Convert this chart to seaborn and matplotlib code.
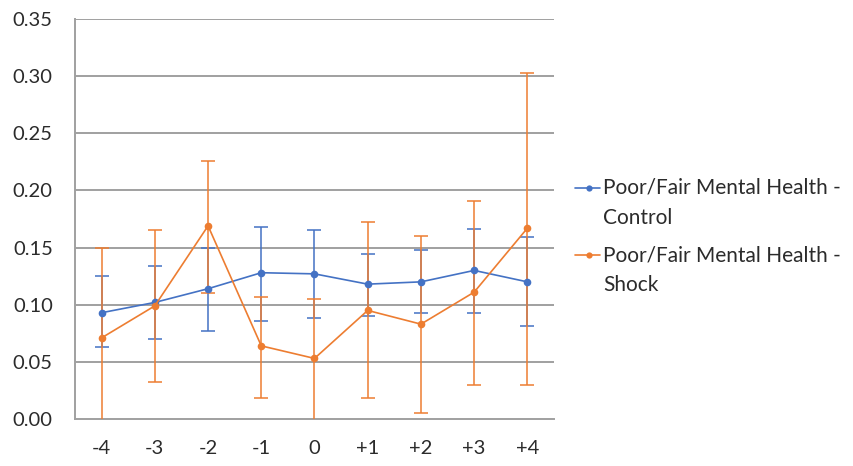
import matplotlib
matplotlib.use("Agg")
import matplotlib.pyplot as plt
from matplotlib.lines import Line2D
from matplotlib.ticker import FixedLocator, FormatStrFormatter
import numpy as np
import pandas as pd
import seaborn as sns

# Event-time categories (years relative to the shock)
periods = ["-4", "-3", "-2", "-1", "0", "+1", "+2", "+3", "+4"]

# Share reporting poor/fair mental health, with confidence bounds
control_mean = [0.093, 0.102, 0.114, 0.128, 0.127, 0.118, 0.120, 0.130, 0.120]
control_low = [0.063, 0.070, 0.077, 0.086, 0.088, 0.090, 0.093, 0.093, 0.081]
control_high = [0.125, 0.134, 0.150, 0.168, 0.165, 0.144, 0.148, 0.166, 0.159]

shock_mean = [0.071, 0.099, 0.169, 0.064, 0.053, 0.095, 0.083, 0.111, 0.167]
shock_low = [-0.010, 0.032, 0.110, 0.018, -0.002, 0.018, 0.005, 0.030, 0.030]
shock_high = [0.150, 0.165, 0.226, 0.107, 0.105, 0.172, 0.160, 0.191, 0.303]

series_names = ["Poor/Fair Mental Health -\nControl", "Poor/Fair Mental Health -\nShock"]
colors = ["#4472C4", "#ED7D31"]
text_color = "#2b2b2b"
axis_gray = "#A0A0A0"
font_size = 14.5

sns.set_style("white")
plt.rcParams["font.family"] = ["Lato", "DejaVu Sans"]

pos = np.arange(len(periods))
df = pd.DataFrame({
    "pos": np.concatenate([pos, pos]),
    "value": control_mean + shock_mean,
    "series": [series_names[0]] * len(pos) + [series_names[1]] * len(pos),
})

W, H = 854, 466
fig = plt.figure(figsize=(W / 100, H / 100), dpi=100)
ax = fig.add_axes([75 / W, 1 - 419 / H, (554 - 75) / W, (419 - 19) / H])

# Horizontal gridlines behind the data
for v in np.arange(0.05, 0.351, 0.05):
    ax.axhline(v, color=axis_gray, lw=1.4, zorder=0)

# Error bars: control first, shock on top
bounds = [(control_mean, control_low, control_high), (shock_mean, shock_low, shock_high)]
for (m, lo, hi), c, z in zip(bounds, colors, [2, 4]):
    m = np.array(m); lo = np.array(lo); hi = np.array(hi)
    ax.errorbar(pos, m, yerr=[m - lo, hi - m], fmt="none", ecolor=c,
                elinewidth=1.1, capsize=5, capthick=1.1, zorder=z)

sns.lineplot(data=df, x="pos", y="value", hue="series", palette=colors,
             marker="o", markersize=5.5, markeredgewidth=0, linewidth=1.2,
             ax=ax, legend=False, zorder=5)

ax.set_xlim(-0.5, len(periods) - 0.5)
ax.set_ylim(0, 0.35)
ax.set_xlabel("")
ax.set_ylabel("")

ax.xaxis.set_major_locator(FixedLocator(pos))
ax.set_xticklabels(periods)
ax.xaxis.set_minor_locator(FixedLocator(np.arange(-0.5, len(periods), 1.0)))
ax.yaxis.set_major_locator(FixedLocator(np.arange(0, 0.351, 0.05)))
ax.yaxis.set_major_formatter(FormatStrFormatter("%.2f"))

ax.tick_params(axis="x", which="major", length=0, pad=15, labelsize=font_size, labelcolor=text_color)
ax.tick_params(axis="x", which="minor", length=6, width=1.4, color=axis_gray, direction="out")
ax.tick_params(axis="y", length=6, width=1.4, color=axis_gray, direction="out",
               pad=10, labelsize=font_size, labelcolor=text_color)

for side in ["top", "right"]:
    ax.spines[side].set_visible(False)
for side in ["left", "bottom"]:
    ax.spines[side].set_color(axis_gray)
    ax.spines[side].set_linewidth(1.4)

# Legend to the right of the plot: key aligned with the first line of each label
row_tops = [188, 255]
for name, c, y in zip(series_names, colors, row_tops):
    fy = 1 - y / H
    fig.add_artist(Line2D([575 / W, 600 / W], [fy, fy], color=c, lw=1.2,
                          transform=fig.transFigure))
    fig.add_artist(Line2D([589 / W], [fy], color=c, marker="o", markersize=4.5,
                          markeredgewidth=0, transform=fig.transFigure))
    fig.text(603 / W, fy + 10 / H, name, ha="left", va="top", fontsize=15,
             color=text_color, linespacing=1.62, transform=fig.transFigure)

fig.savefig("out.png", dpi=100)
